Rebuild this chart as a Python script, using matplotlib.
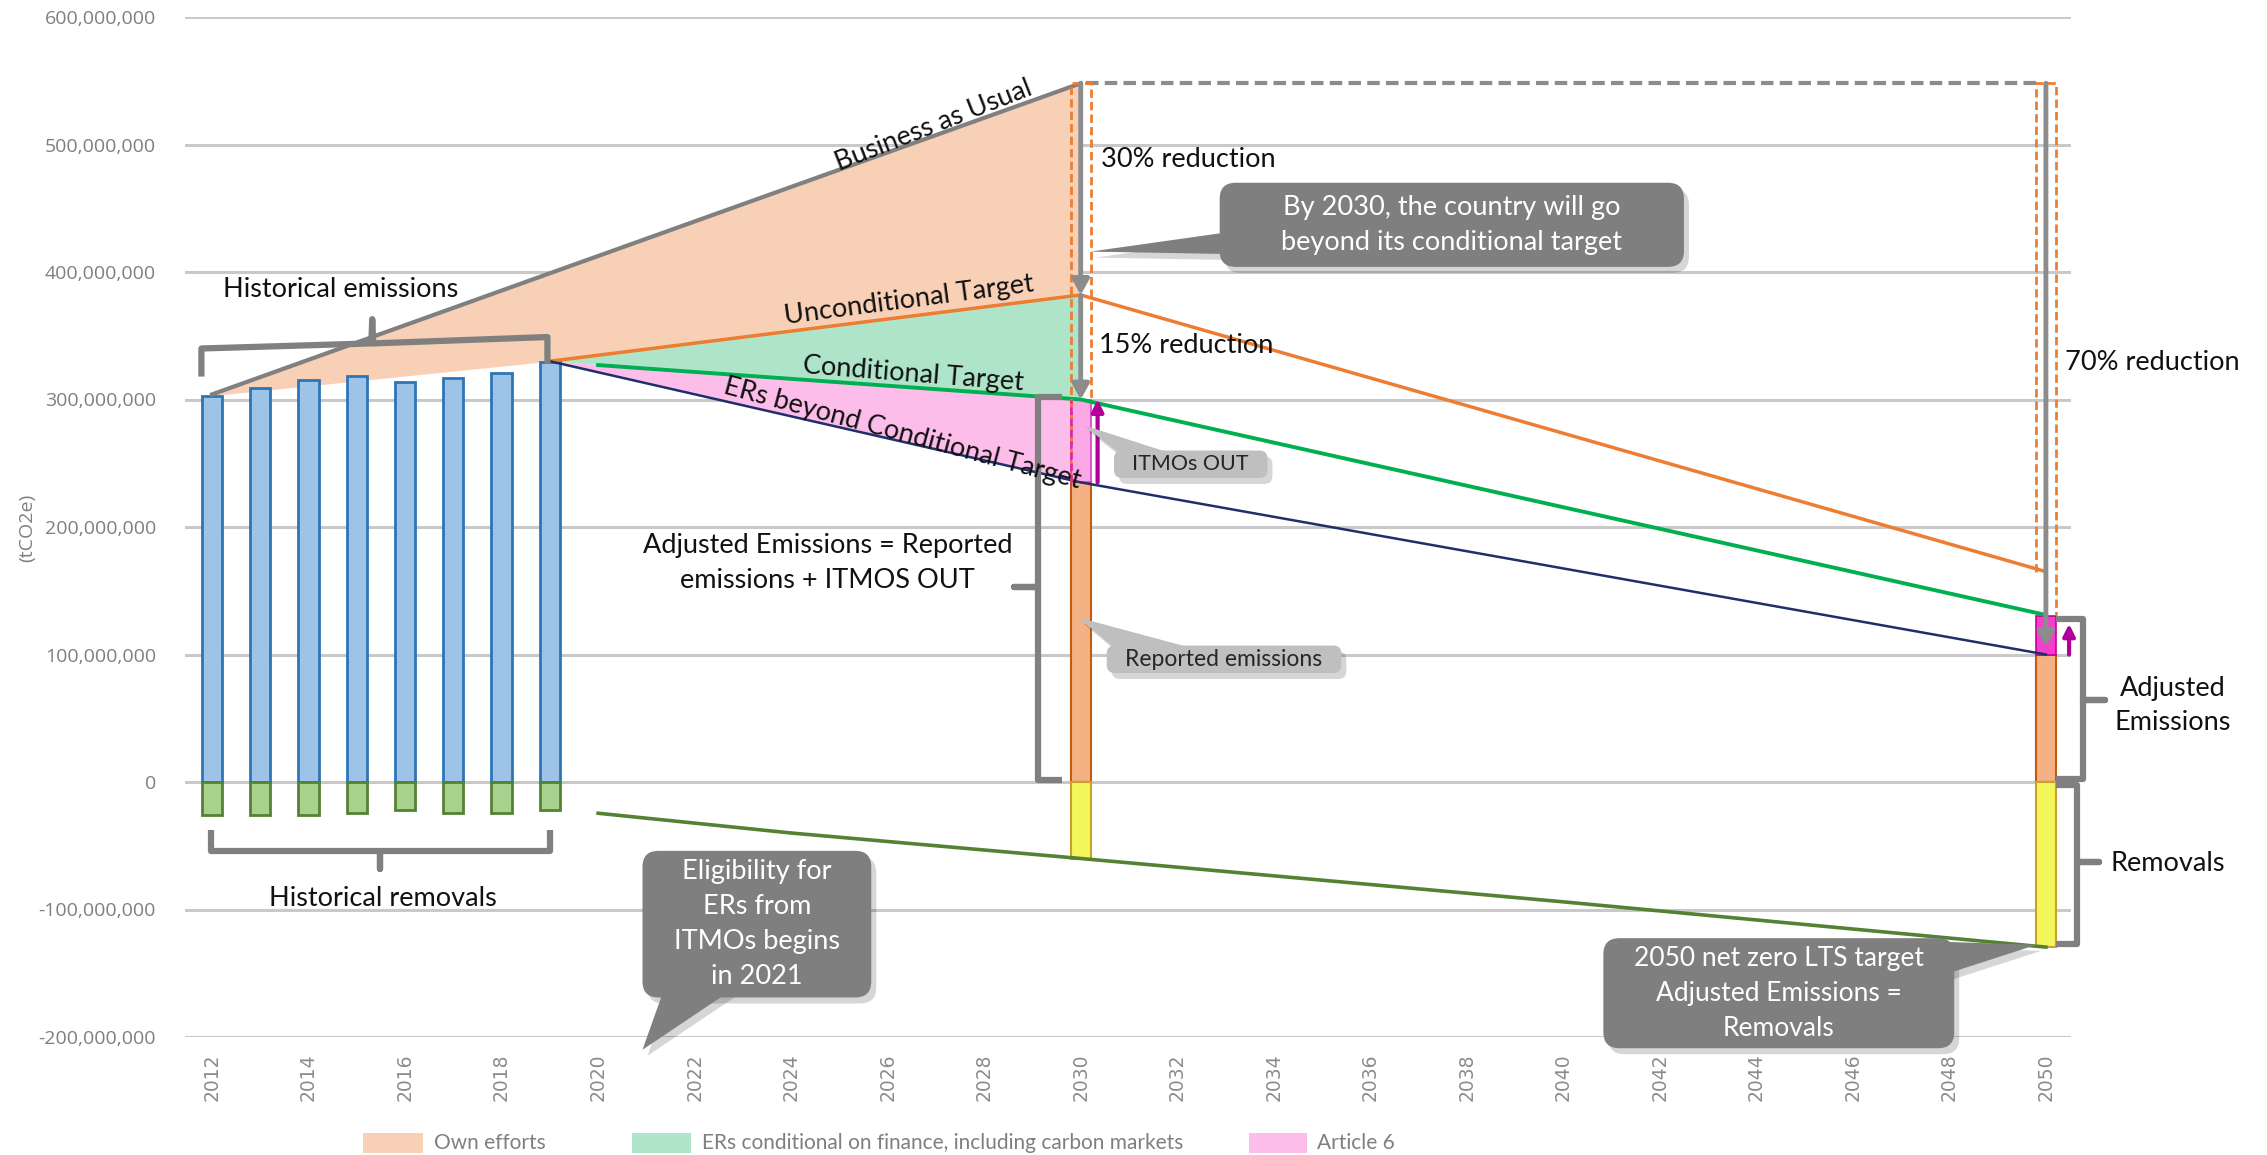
import numpy as np
import matplotlib
matplotlib.use("Agg")
import matplotlib.pyplot as plt
from matplotlib.patches import FancyBboxPatch, Polygon, Rectangle

W, H, DPI = 2267, 1155, 100
plt.rcParams["font.family"] = ["Lato", "DejaVu Sans"]

# ---- data (tCO2e) ---------------------------------------------------
hist_years = [2012, 2013, 2014, 2015, 2016, 2017, 2018, 2019]
hist_emis  = [303e6, 309e6, 315e6, 318.5e6, 314e6, 317e6, 320.5e6, 329.5e6]
hist_rem   = [-25.8e6, -25.8e6, -25.8e6, -24.7e6, -21.6e6, -24.7e6, -24.7e6, -21.6e6]

bau_years    = [2012, 2019, 2030]
bau_vals     = [304e6, 399e6, 548e6]
uncond_years = [2019, 2030, 2050]
uncond_vals  = [330e6, 382e6, 165e6]
cond_years   = [2019, 2020, 2030, 2050]
cond_vals    = [330e6, 327e6, 300e6, 131e6]
beyond_years = [2019, 2030, 2050]
beyond_vals  = [330e6, 235e6, 100e6]
remline_years = [2020, 2024, 2030, 2040, 2050]
remline_vals  = [-24.5e6, -40e6, -60e6, -94e6, -129.5e6]

target_years = [2030, 2050]
reported     = [235e6, 100e6]
itmos_out    = [65e6, 30e6]
removals     = [-60e6, -129.5e6]

legend_labels = ["Own efforts", "ERs conditional on finance, including carbon markets", "Article 6"]

# colours
C_PEACH, C_GREENF, C_PINK = "#F8D0B6", "#AEE5C8", "#FCBDEB"
C_GRAY, C_ORANGE, C_GREEN, C_NAVY = "#808080", "#ED7D31", "#00B050", "#1F2F6B"
C_TXT = "#7F7F7F"
BW = 0.42

fig = plt.figure(figsize=(W / DPI, H / DPI), dpi=DPI)
ax = fig.add_axes([185 / W, 1 - 1037 / H, (2071 - 185) / W, (1037 - 17) / H])
ax.set_xlim(2011.44, 2050.52)
ax.set_ylim(-200e6, 600e6)

# grid / axes look
ax.set_yticks(np.arange(-200e6, 600e6 + 1, 100e6))
ax.set_yticklabels([f"{v:,.0f}" for v in np.arange(-200e6, 600e6 + 1, 100e6)],
                   fontfamily="Open Sans", fontsize=14, color=C_TXT)
ax.set_xticks(range(2012, 2051, 2))
ax.set_xticklabels([str(y) for y in range(2012, 2051, 2)], rotation=90,
                   fontfamily="DejaVu Sans", fontsize=13.5, color="#8C8C8C")
ax.tick_params(axis="both", length=0)
ax.tick_params(axis="y", pad=21)
ax.tick_params(axis="x", pad=12)
for s in ax.spines.values():
    s.set_visible(False)
ax.grid(axis="y", color="#C9C9C9", lw=2.2, zorder=0)
ax.set_axisbelow(True)
fig.text(27 / W, 1 - 528 / H, "(tCO2e)", rotation=90, ha="center", va="center",
         fontfamily="Open Sans", fontsize=14, color=C_TXT)

# ---- areas ----------------------------------------------------------
ax.fill_between(bau_years, [hist_emis[0], uncond_vals[0], uncond_vals[1]], bau_vals,
                color=C_PEACH, lw=0, zorder=1)
ax.fill(uncond_years[:2] + cond_years[2::-1], uncond_vals[:2] + cond_vals[2::-1],
        color=C_GREENF, lw=0, zorder=1)
ax.fill(cond_years[:3] + beyond_years[1::-1], cond_vals[:3] + beyond_vals[1::-1],
        color=C_PINK, lw=0, zorder=1)

# ---- bars -----------------------------------------------------------
ax.bar(hist_years, hist_emis, BW, color="#9DC3E6", edgecolor="#2E75B6", lw=2, zorder=2)
ax.bar(hist_years, hist_rem, BW, color="#A9D18E", edgecolor="#548235", lw=2, zorder=2)
ax.bar(target_years, reported, BW, color="#F4B183", edgecolor="#C55A11", lw=1.5, zorder=2)
ax.bar(target_years, itmos_out, BW, bottom=reported, color=["#FBA8E6", "#F23ECB"],
       edgecolor=["#E23BC4", "#C4009F"], lw=1.2, zorder=2)
ax.bar(target_years, removals, BW, color="#F3F65A", edgecolor="#C9A227", lw=1.5, zorder=2)

# ---- lines ----------------------------------------------------------
ax.plot(bau_years, bau_vals, color=C_GRAY, lw=3, zorder=3)
ax.plot(uncond_years, uncond_vals, color=C_ORANGE, lw=2.5, zorder=3)
ax.plot(cond_years[1:], cond_vals[1:], color=C_GREEN, lw=2.8, zorder=3)
ax.plot(beyond_years, beyond_vals, color=C_NAVY, lw=1.8, zorder=3)
ax.plot(remline_years, remline_vals, color="#548235", lw=2.6, zorder=3)

# dashed guides from BAU 2030 level
top = bau_vals[-1]
ax.plot([target_years[0] + 0.1, target_years[1] - BW / 2], [top, top], color="#8C8C8C",
        lw=3, ls=(0, (3, 1.5)), zorder=4, clip_on=False)
for yr, low_l, low_r in [(2030, reported[0], cond_vals[2]), (2050, uncond_vals[2], cond_vals[3])]:
    ax.plot([yr - BW / 2, yr - BW / 2, yr + BW / 2, yr + BW / 2], [low_l, top, top, low_r],
            color=C_ORANGE, lw=2, ls=(0, (3, 1.5)), zorder=4, clip_on=False)
ax.plot([2030 - BW / 2] * 2, [reported[0], cond_vals[2]], color="#E020B8", lw=1.8,
        ls=(0, (3, 1.5)), zorder=4)

def arrow(x, y0, y1, color, lw, hw=0.5, hl=0.9):
    ax.annotate("", xy=(x, y1), xytext=(x, y0), zorder=5, annotation_clip=False,
                arrowprops=dict(arrowstyle=f"-|>,head_width={hw},head_length={hl}",
                                color=color, lw=lw, shrinkA=0, shrinkB=0))

arrow(2030, top, uncond_vals[1], "#8C8C8C", 3.5)
arrow(2030, uncond_vals[1], cond_vals[2], "#8C8C8C", 3.5)
arrow(2050, top, 106e6, "#8C8C8C", 3.5)
arrow(2030.35, beyond_vals[1], cond_vals[2], "#B0009A", 3, 0.35, 0.7)
arrow(2050.48, beyond_vals[2], 124e6, "#B0009A", 3, 0.35, 0.7)

# ---- braces ---------------------------------------------------------
def brace(xs, ys):
    ax.plot(xs, ys, color=C_GRAY, lw=4.5, solid_joinstyle="round", solid_capstyle="butt",
            zorder=4, clip_on=False)

brace([2011.78, 2011.78, 2015.3, 2015.32, 2015.34, 2018.95, 2018.95],
      [318e6, 340e6, 344e6, 363e6, 344e6, 349e6, 328e6])
brace([2011.97, 2011.97, 2015.49, 2015.49, 2015.49, 2019.0, 2019.0],
      [-38e6, -54e6, -54e6, -68e6, -54e6, -54e6, -38e6])
brace([2029.61, 2029.12, 2029.12, 2028.61, 2029.12, 2029.12, 2029.61],
      [302e6, 302e6, 153e6, 153e6, 153e6, 1.5e6, 1.5e6])
brace([2050.21, 2050.77, 2050.77, 2051.22, 2050.77, 2050.77, 2050.21],
      [128e6, 128e6, 64e6, 64e6, 64e6, 2e6, 2e6])
brace([2050.21, 2050.64, 2050.64, 2051.09, 2050.64, 2050.64, 2050.21],
      [-2e6, -2e6, -63e6, -63e6, -63e6, -127e6, -127e6])

# ---- labels ---------------------------------------------------------
TK = dict(color="#111111", fontsize=19.5, zorder=6, clip_on=False)
ax.text(2014.66, 386e6, "Historical emissions", ha="center", va="center", **TK)
ax.text(2015.54, -91e6, "Historical removals", ha="center", va="center", **TK)
ax.text(2026.95, 515e6, "Business as Usual", ha="center", va="center", rotation=21.5,
        rotation_mode="anchor", **TK)
ax.text(2026.44, 378e6, "Unconditional Target", ha="center", va="center", rotation=7.5,
        rotation_mode="anchor", **TK)
ax.text(2026.53, 319.5e6, "Conditional Target", ha="center", va="center", rotation=-4.5,
        rotation_mode="anchor", **TK)
ax.text(2026.3, 273e6, "ERs beyond Conditional Target", ha="center", va="center",
        rotation=-15, rotation_mode="anchor", **TK)
ax.text(2030.42, 488e6, "30% reduction", ha="left", va="center", **TK)
ax.text(2030.37, 342e6, "15% reduction", ha="left", va="center", **TK)
ax.text(2050.39, 329e6, "70% reduction", ha="left", va="center", **TK)
ax.text(2024.75, 172e6, "Adjusted Emissions = Reported\nemissions + ITMOS OUT",
        ha="center", va="center", linespacing=1.5, **TK)
ax.text(2052.62, 60e6, "Adjusted\nEmissions", ha="center", va="center", linespacing=1.45, **TK)
ax.text(2052.52, -64e6, "Removals", ha="center", va="center", **TK)

# ---- callouts (pixel overlay) ---------------------------------------
ov = fig.add_axes([0, 0, 1, 1], zorder=10)
ov.set_xlim(0, W)
ov.set_ylim(H, 0)
ov.axis("off")

def px(x, y):
    dx, dy = ax.transData.transform((x, y))
    return dx, H - dy

def callout(box, tip, base, text, face, tcolor, size, r=16, ls=1.5):
    (x0, y0), (x1, y1) = px(*box[0]), px(*box[1])
    x0, x1 = min(x0, x1), max(x0, x1)
    y0, y1 = min(y0, y1), max(y0, y1)
    tp = px(*tip)
    b = [px(*p) for p in base]
    for dx, dy, fc, a in [(5, 6, "black", 0.16), (0, 0, face, 1)]:
        ov.add_patch(FancyBboxPatch((x0 + dx, y0 + dy), x1 - x0, y1 - y0,
                                    boxstyle=f"round,pad=0,rounding_size={r}",
                                    fc=fc, ec="none", alpha=a))
        ov.add_patch(Polygon([(b[0][0] + dx, b[0][1] + dy), (tp[0] + dx, tp[1] + dy),
                              (b[1][0] + dx, b[1][1] + dy)], fc=fc, ec="none", alpha=a))
    ov.text((x0 + x1) / 2, (y0 + y1) / 2, text, ha="center", va="center",
            color=tcolor, fontsize=size, linespacing=ls)

DARK, LIGHT = "#7F7F7F", "#BFBFBF"
callout(((2032.88, 470e6), (2042.5, 404e6)), (2030.2, 416e6),
        [(2033.2, 432e6), (2033.2, 414e6)],
        "By 2030, the country will go\nbeyond its conditional target", DARK, "white", 19.5)
callout(((2020.92, -54e6), (2025.66, -169e6)), (2020.92, -210e6),
        [(2021.39, -160e6), (2022.89, -160e6)],
        "Eligibility for\nERs from\nITMOs begins\nin 2021", DARK, "white", 19.5)
callout(((2040.83, -122.5e6), (2048.1, -208.8e6)), (2049.8, -127.7e6),
        [(2047.6, -125e6), (2047.9, -151e6)],
        "2050 net zero LTS target\nAdjusted Emissions =\nRemovals", DARK, "white", 19)
callout(((2030.69, 260e6), (2033.87, 238.5e6)), (2030.05, 280e6),
        [(2030.9, 255e6), (2032.1, 255e6)], "ITMOs OUT", LIGHT, "#262626", 15.5, r=8)
callout(((2030.54, 107e6), (2035.4, 85.5e6)), (2029.95, 129e6),
        [(2030.8, 102e6), (2032.6, 102e6)], "Reported emissions", LIGHT, "#262626", 16.5, r=8)

# ---- legend (bottom) ------------------------------------------------
for (x0, x1, tx), lab, col in zip([(363, 423, 434), (632, 691, 702), (1249, 1307, 1317)],
                                  legend_labels, [C_PEACH, C_GREENF, C_PINK]):
    ov.add_patch(Rectangle((x0, 1133), x1 - x0, 20, fc=col, ec="none"))
    ov.text(tx, 1143, lab, ha="left", va="center", color=C_TXT, fontsize=15)

fig.savefig("out.png", dpi=DPI)
